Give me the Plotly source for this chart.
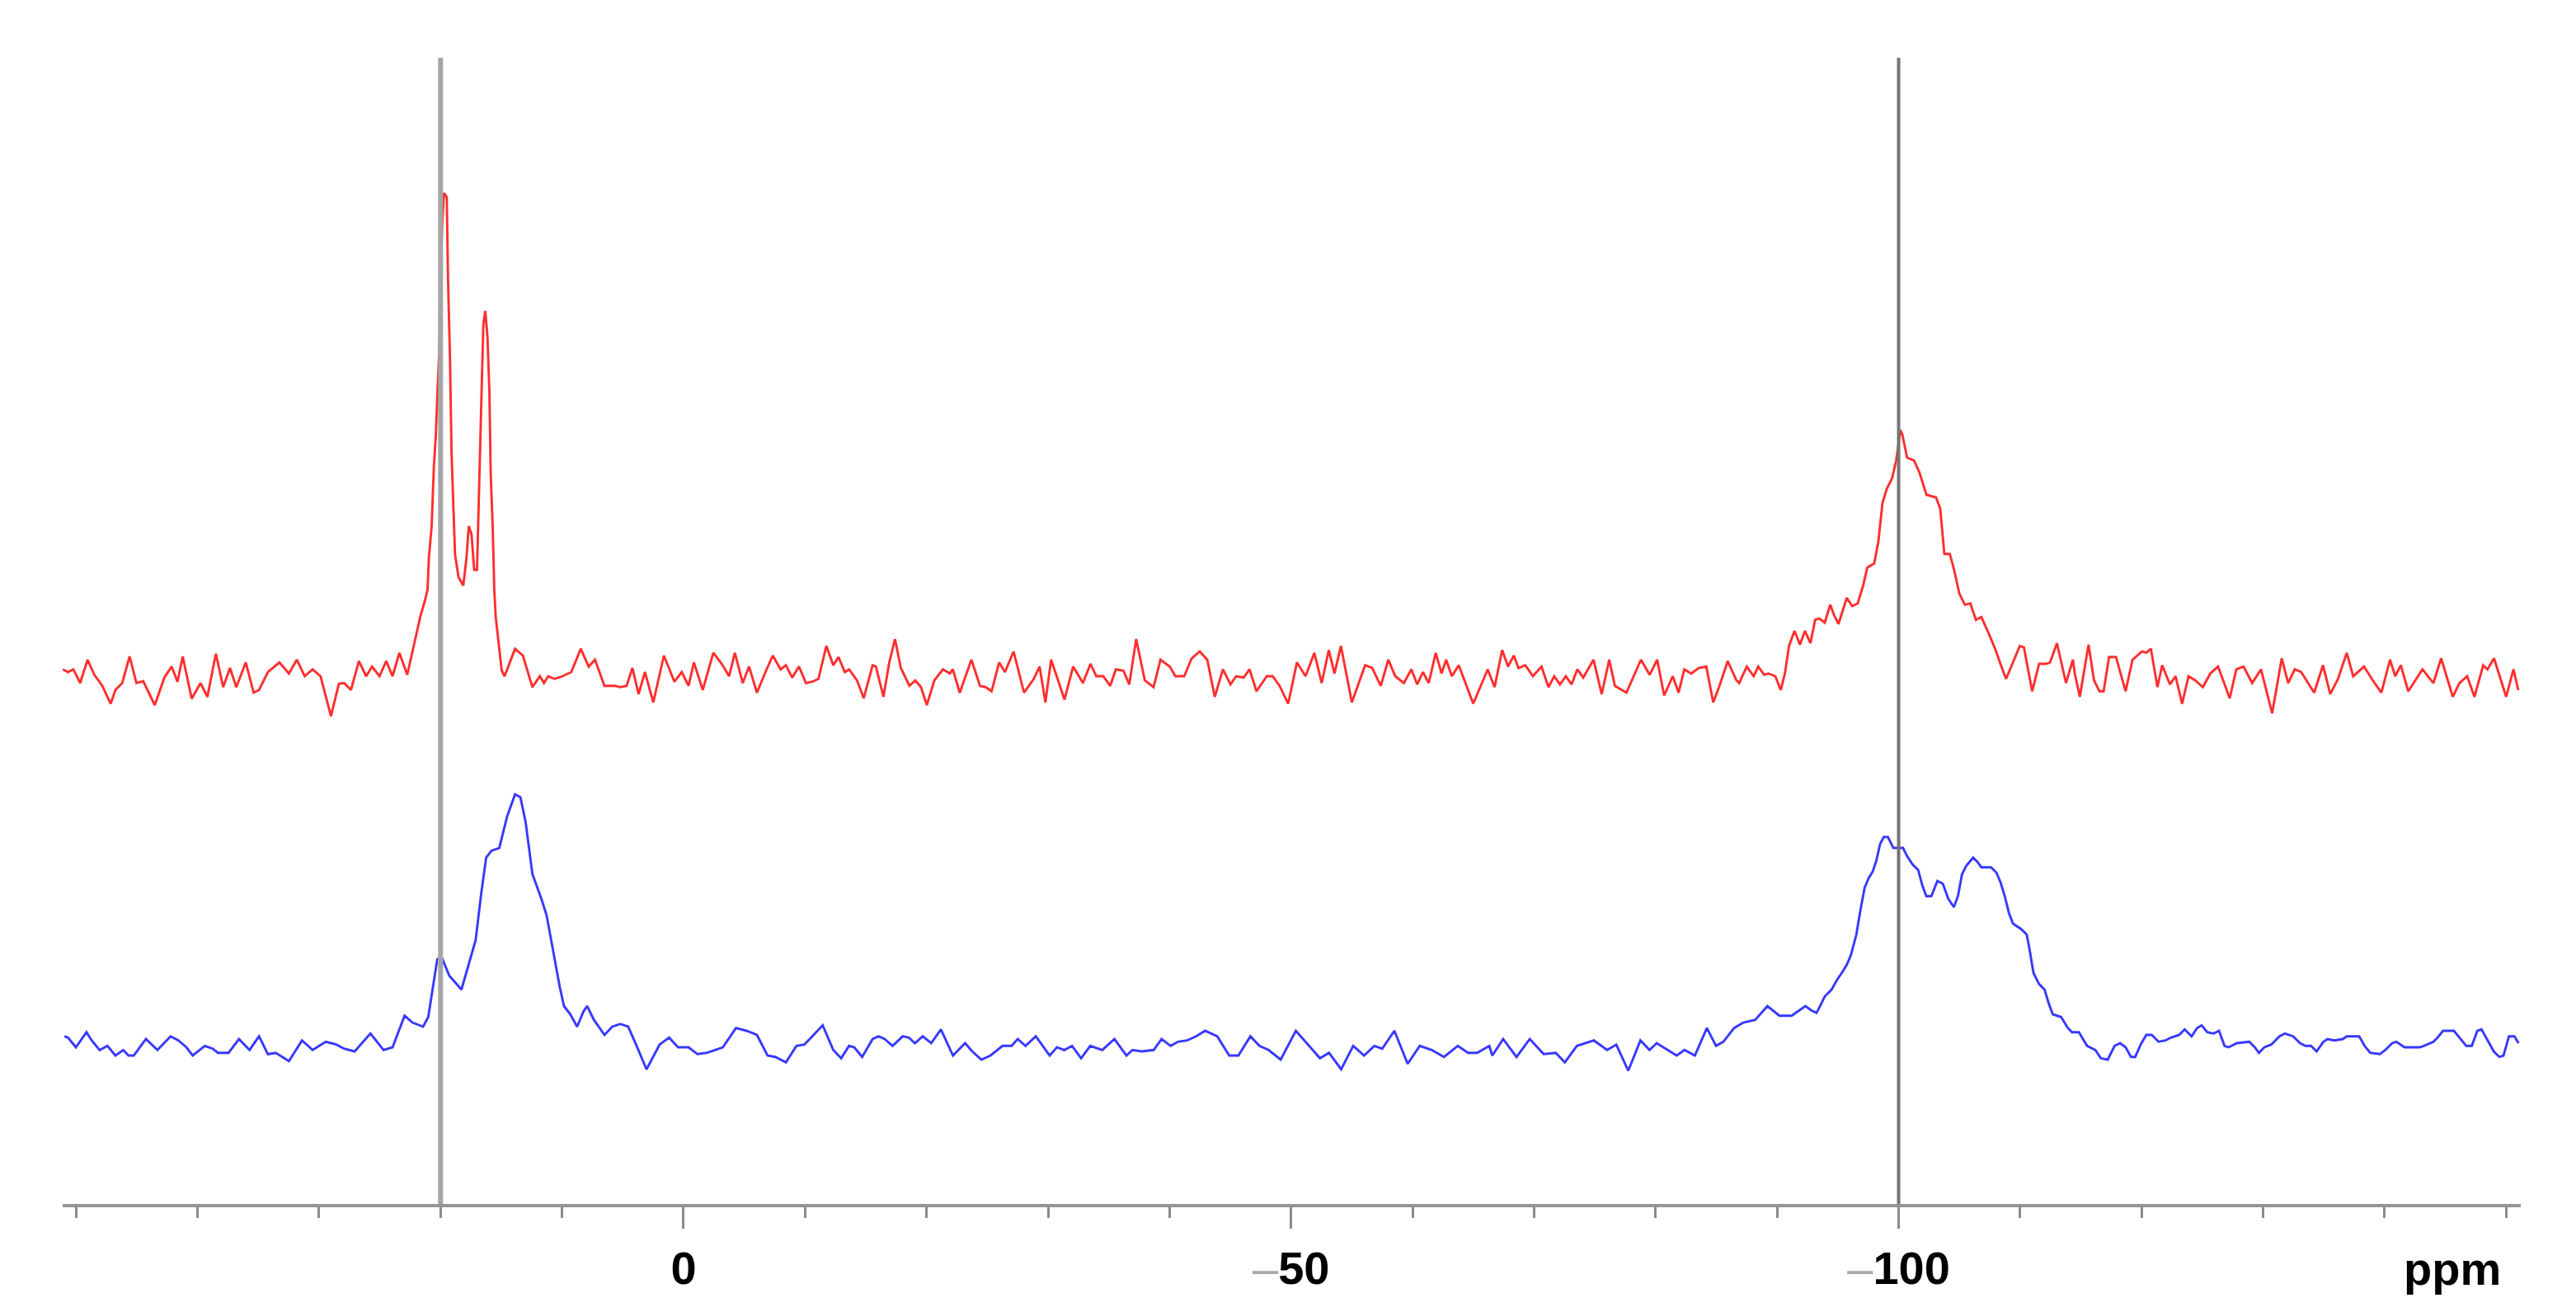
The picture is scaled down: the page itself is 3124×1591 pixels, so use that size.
import plotly.graph_objects as go

# ---------------------------------------------------------------------------
# Spectra: chemical shift (ppm) and intensity (a.u.)
# ---------------------------------------------------------------------------
red_ppm = [
    51.09, 50.66, 50.22, 49.66, 49.05, 48.49, 47.84, 47.15, 46.76, 46.20,
    45.59, 45.03, 44.47, 43.52, 42.73, 42.13, 41.65, 41.22, 40.48, 39.75,
    39.19, 38.49, 37.89, 37.33, 36.81, 36.03, 35.38, 34.94, 34.21, 33.26,
    32.48, 31.83, 31.18, 30.53, 29.88, 29.02, 28.37, 27.93, 27.37, 26.72,
    26.12, 25.64, 25.03, 24.47, 23.95, 23.39, 22.74, 22.20, 21.86, 21.64,
    21.30, 21.07, 20.96, 20.73, 20.55, 20.39, 20.24, 20.10, 20.01, 19.87,
    19.72, 19.49, 19.38, 19.22, 19.10, 18.97, 18.81, 18.52, 18.13, 17.86,
    17.68, 17.45, 17.23, 17.00, 16.89, 16.71, 16.59, 16.48, 16.32, 16.14,
    15.98, 15.87, 15.71, 15.58, 15.46, 15.26, 14.97, 14.73, 13.87, 13.22,
    12.44, 11.83, 11.49, 11.14, 10.62, 9.97, 9.24, 8.46, 7.81, 7.29,
    6.51, 5.64, 5.21, 4.69, 4.21, 3.70, 3.18, 2.49, 1.62, 0.75,
    0.15, -0.41, -0.85, -1.58, -2.45, -3.14, -3.75, -4.22, -4.87, -5.39,
    -6.04, -6.69, -7.34, -7.99, -8.42, -8.94, -9.50, -10.07, -10.59, -11.10,
    -11.75, -12.32, -12.75, -13.27, -13.62, -14.27, -14.83, -15.56, -15.83, -16.45,
    -16.93, -17.40, -17.88, -18.59, -19.07, -19.54, -20.02, -20.64, -21.35, -21.92,
    -22.16, -22.73, -23.69, -24.40, -24.88, -25.35, -25.97, -26.45, -27.16, -28.02,
    -28.82, -29.30, -29.78, -30.25, -31.35, -32.06, -32.87, -33.49, -33.97, -34.54,
    -35.11, -35.58, -36.20, -36.68, -37.25, -37.96, -38.68, -39.25, -40.01, -40.48,
    -41.20, -41.82, -42.48, -43.10, -43.72, -44.39, -45.01, -45.48, -46.10, -46.58,
    -47.15, -48.00, -48.48, -49.05, -49.76, -50.48, -51.19, -51.91, -52.52, -53.10,
    -53.57, -54.10, -55.00, -56.09, -56.67, -57.38, -58.00, -58.57, -59.28, -59.90,
    -60.38, -60.85, -61.33, -61.90, -62.38, -62.76, -63.23, -63.80, -64.99, -66.18,
    -66.75, -67.37, -67.85, -68.33, -68.71, -69.28, -69.90, -70.61, -71.18, -71.66,
    -72.13, -72.61, -73.08, -73.56, -74.04, -74.89, -75.56, -76.18, -76.65, -77.60,
    -78.79, -79.51, -80.13, -80.70, -81.41, -81.89, -82.36, -82.93, -83.55, -84.17,
    -84.74, -85.22, -85.93, -86.65, -86.88, -87.50, -88.07, -88.45, -88.93, -89.28,
    -89.85, -90.30, -90.64, -90.98, -91.43, -91.88, -92.29, -92.74, -93.13, -93.47,
    -93.92, -94.37, -94.71, -95.05, -95.73, -96.18, -96.63, -97.08, -97.42, -97.99,
    -98.33, -98.67, -99.01, -99.46, -99.80, -100.14, -100.30, -100.70, -101.27, -101.72,
    -102.29, -103.08, -103.42, -103.76, -104.21, -104.55, -105.00, -105.45, -105.90, -106.36,
    -106.81, -107.37, -107.94, -108.50, -108.84, -109.41, -109.97, -110.31, -110.99, -111.56,
    -112.12, -112.46, -113.03, -113.77, -114.34, -114.50, -114.91, -115.63, -116.08, -116.53,
    -116.87, -117.32, -117.89, -118.68, -119.25, -120.04, -120.37, -120.76, -121.30, -121.69,
    -122.33, -122.79, -123.33, -123.86, -124.40, -125.04, -125.65, -126.29, -127.25, -127.79,
    -128.39, -129.10, -129.82, -130.74, -131.53, -132.06, -132.60, -133.13, -134.20, -134.92,
    -135.52, -136.16, -136.88, -137.41, -138.30, -139.02, -139.73, -140.44, -140.87, -141.33,
    -141.94, -143.11, -144.01, -144.65, -145.61, -146.15, -146.79, -147.39, -148.11, -148.46,
    -149.00, -150.00, -150.60, -151.00,
]
red_int = [
    5.3, 2.0, 5.3, -11.3, 17.0, -1.3, -14.7, -36.3, -19.7, -11.3,
    21.0, -11.3, -9.0, -38.0, -4.7, 8.7, -9.7, 21.0, -30.3, -11.3,
    -28.0, 24.3, -16.3, 7.0, -16.3, 13.7, -23.0, -19.7, 2.0, 13.7,
    0.3, 17.0, -3.0, 5.3, -3.0, -51.3, -12.3, -11.3, -19.7, 15.3,
    -3.0, 8.7, -3.0, 15.3, -3.0, 25.3, -1.3, 33.0, 55.0, 71.0,
    88.0, 102.0, 141.0, 179.0, 251.0, 289.0, 346.0, 394.0, 476.0, 543.0,
    583.0, 578.0, 476.0, 380.0, 270.0, 208.0, 145.0, 117.0, 107.0, 141.0,
    179.0, 169.0, 126.0, 126.0, 188.0, 279.0, 346.0, 423.0, 440.0, 409.0,
    342.0, 241.0, 179.0, 102.0, 69.0, 40.0, 4.0, -3.0, 30.3, 22.0,
    -16.3, -3.0, -11.3, -3.0, -6.3, -3.0, 2.0, 30.3, 8.7, 17.0,
    -14.7, -14.7, -16.3, -14.7, 7.0, -24.7, 2.0, -34.7, 22.0, -9.7,
    2.0, -14.7, 13.7, -19.7, 25.3, 12.0, -3.0, 25.3, -11.3, 8.7,
    -23.0, 0.3, 22.0, 5.3, 10.3, -4.7, 8.7, -11.3, -9.7, -6.3,
    33.7, 10.3, 20.3, 2.0, 5.3, -8.0, -29.7, 10.3, 8.7, -28.0,
    13.7, 42.0, 7.0, -14.7, -8.0, -16.3, -38.0, -8.0, 5.3, 0.3,
    5.3, -23.0, 17.0, -14.7, -16.3, -21.3, 13.7, 2.0, 27.0, -23.0,
    -6.3, 8.7, -34.7, 17.0, -31.3, 8.7, -11.3, 12.0, -3.0, -3.0,
    -14.7, 5.3, 3.7, -13.0, 42.0, -8.0, -16.3, 17.0, 8.7, -3.0,
    -3.0, 18.7, 27.0, 17.0, -28.0, 5.3, -13.0, -3.0, -4.7, 5.3,
    -21.3, -3.0, -3.0, -14.7, -36.3, 13.7, -3.0, 25.3, -11.3, 28.7,
    0.3, 33.7, -34.7, 10.3, 7.0, -14.7, 17.0, -3.0, -11.3, 5.3,
    -13.0, 2.0, -11.3, 25.3, 0.3, 17.0, -3.0, 10.3, -36.3, 5.3,
    -16.3, 28.7, 8.7, 22.0, 7.0, 10.3, -3.0, 8.7, -16.3, -3.0,
    -13.0, -3.0, -13.0, 5.3, -4.7, 17.0, -24.7, 17.0, -14.7, -23.0,
    17.0, -1.3, 17.0, -26.3, -3.0, -23.0, 5.3, 0.3, 7.0, 8.7,
    -34.7, -16.3, 15.3, -8.0, -11.3, 8.7, -3.0, 8.7, -1.3, 0.3,
    -3.0, -19.7, 0.3, 33.7, 52.0, 35.3, 52.0, 37.0, 65.3, 67.0,
    62.0, 83.7, 70.3, 60.3, 92.0, 82.0, 85.3, 107.0, 128.7, 133.7,
    160.3, 207.0, 223.7, 237.0, 258.7, 295.3, 290.3, 262.0, 258.7, 243.7,
    217.0, 213.7, 200.3, 145.3, 145.3, 127.0, 97.0, 83.7, 85.3, 65.3,
    68.7, 50.3, 30.3, 7.0, -6.3, 13.7, 33.7, 32.0, -21.3, 12.0,
    12.0, 13.7, 37.0, -11.3, 17.0, 0.3, -28.0, 35.3, -8.0, -21.3,
    -21.3, 20.3, 20.3, -21.3, 17.0, 27.0, 25.3, 30.3, -16.3, 10.3,
    -13.0, -3.0, -36.3, -3.0, -8.0, -16.3, 0.3, 8.7, -29.7, 5.3,
    8.7, -11.3, 5.3, -48.0, 18.7, -11.3, 5.3, 2.0, -23.0, 10.3,
    -24.7, -6.3, 25.3, -3.0, 8.7, -8.0, -23.0, 17.0, -3.0, 10.3,
    -21.3, 5.3, -11.3, 18.7, -28.0, -11.3, -3.0, -28.0, 10.3, 5.3,
    18.7, -28.0, 5.3, -20.0,
]

blue_ppm = [
    50.96, 50.66, 50.01, 49.14, 48.71, 48.06, 47.41, 46.76, 46.11, 45.68,
    45.25, 44.25, 43.30, 42.22, 41.57, 40.92, 40.40, 39.40, 38.75, 38.32,
    37.45, 36.59, 35.72, 34.94, 34.21, 33.56, 32.48, 31.40, 30.53, 29.45,
    28.58, 27.93, 27.07, 25.77, 24.69, 23.95, 22.96, 22.31, 21.44, 21.01,
    20.66, 20.27, 19.93, 19.28, 18.28, 17.55, 17.11, 16.68, 16.25, 15.81,
    15.17, 14.52, 13.87, 13.43, 13.00, 12.44, 11.70, 11.27, 10.71, 10.19,
    9.84, 9.32, 8.76, 8.24, 7.94, 7.38, 6.51, 5.86, 5.21, 4.56,
    3.91, 3.05, 1.97, 1.19, 0.45, -0.41, -1.15, -1.93, -2.58, -3.23,
    -4.31, -5.18, -6.04, -6.91, -7.56, -8.42, -9.29, -9.94, -10.59, -11.45,
    -12.32, -12.97, -13.62, -14.05, -14.70, -15.56, -16.05, -16.55, -17.20, -18.04,
    -18.54, -19.04, -19.68, -20.38, -21.18, -22.17, -23.17, -23.76, -24.51, -25.26,
    -26.25, -27.00, -27.50, -28.14, -28.99, -30.13, -30.73, -31.33, -31.97, -32.72,
    -33.47, -34.46, -35.46, -36.45, -36.95, -37.70, -38.69, -39.34, -40.09, -40.68,
    -41.43, -42.18, -42.92, -43.92, -44.91, -45.66, -46.65, -47.40, -48.15, -49.14,
    -50.39, -51.38, -52.38, -53.12, -54.12, -55.11, -56.01, -56.85, -57.50, -58.50,
    -59.59, -60.59, -61.58, -62.58, -63.72, -64.57, -65.31, -66.31, -66.56, -67.45,
    -68.55, -69.64, -70.79, -71.78, -72.53, -73.52, -74.92, -76.01, -76.76, -77.75,
    -78.75, -79.50, -80.09, -80.99, -81.73, -82.38, -83.23, -84.22, -84.97, -85.57,
    -86.46, -87.21, -88.20, -89.20, -90.19, -91.19, -92.33, -92.79, -93.24, -93.65,
    -93.92, -94.48, -94.93, -95.39, -95.73, -96.07, -96.29, -96.52, -96.86, -97.20,
    -97.53, -97.87, -98.17, -98.48, -98.78, -99.12, -99.57, -100.02, -100.36, -100.70,
    -101.15, -101.61, -101.94, -102.28, -102.69, -103.19, -103.64, -104.09, -104.55, -104.88,
    -105.22, -105.56, -106.13, -106.47, -106.81, -107.60, -108.05, -108.39, -108.73, -109.07,
    -109.41, -110.09, -110.54, -110.76, -111.10, -111.56, -112.01, -112.35, -112.69, -113.37,
    -113.93, -114.27, -114.84, -115.17, -115.51, -116.19, -116.64, -117.21, -117.77, -118.23,
    -118.68, -119.13, -119.47, -119.92, -120.38, -120.83, -121.39, -121.96, -122.41, -123.09,
    -123.54, -124.11, -124.56, -124.94, -125.40, -125.92, -126.37, -126.82, -127.16, -127.84,
    -128.86, -129.31, -129.65, -130.10, -130.67, -131.34, -131.80, -132.47, -133.04, -133.49,
    -133.94, -134.40, -134.96, -135.30, -135.87, -136.55, -136.88, -137.90, -138.35, -138.81,
    -139.60, -140.05, -140.62, -140.96, -141.63, -142.31, -142.88, -143.22, -144.01, -144.35,
    -144.80, -145.70, -146.27, -146.72, -147.17, -147.63, -147.97, -148.53, -148.98, -149.44,
    -149.78, -150.23, -150.68, -151.02,
]
blue_int = [
    10.3, 8.7, -3.0, 15.3, 5.3, -6.3, -1.3, -13.0, -6.3, -13.0,
    -13.0, 7.0, -6.3, 10.3, 5.3, -3.0, -13.0, -1.3, -4.7, -9.7,
    -9.7, 7.0, -6.3, 10.3, -11.3, -9.7, -19.7, 5.3, -6.3, 3.7,
    0.3, -4.7, -8.0, 13.7, -6.3, -3.0, 35.3, 27.0, 22.0, 33.7,
    67.0, 103.7, 107.0, 83.7, 67.0, 103.7, 127.0, 180.3, 227.0, 235.3,
    238.7, 277.0, 303.7, 300.3, 270.3, 207.0, 177.0, 157.0, 110.3, 70.3,
    47.0, 37.0, 22.0, 40.3, 47.0, 30.3, 12.0, 22.0, 25.3, 22.0,
    0.3, -29.7, 0.3, 8.7, -3.0, -3.0, -11.3, -9.7, -6.3, -3.0,
    20.3, 17.0, 12.0, -13.0, -14.7, -21.3, -1.3, 0.3, 10.3, 23.7,
    -6.3, -16.3, -1.3, -3.0, -14.7, 7.0, 10.3, 7.0, -1.3, 10.3,
    8.7, 2.0, 10.3, 2.0, 18.7, -13.0, 2.0, -8.0, -18.0, -13.0,
    -1.3, -1.3, 7.0, -1.3, 10.3, -13.0, -3.0, -6.3, -1.3, -16.3,
    -1.3, -6.3, 7.0, -13.0, -6.3, -8.0, -6.3, 7.0, -1.3, 3.7,
    5.3, 10.3, 17.0, 10.3, -13.0, -13.0, 10.3, -1.3, -6.3, -18.0,
    17.0, 0.3, -16.3, -9.7, -29.7, -1.3, -13.0, -1.3, -4.7, 17.0,
    -23.0, -1.3, -6.3, -14.7, -1.3, -9.7, -9.7, -1.3, -13.0, 7.0,
    -14.7, 7.0, -11.3, -9.7, -21.3, -1.3, 5.3, -6.3, 0.3, -31.3,
    5.3, -6.3, 2.0, -6.3, -13.0, -6.3, -13.0, 20.3, -1.3, 3.7,
    20.3, 27.0, 30.3, 47.0, 35.3, 35.3, 47.0, 42.0, 38.7, 50.3,
    58.7, 67.0, 78.7, 88.7, 97.0, 108.7, 120.3, 133.7, 163.7, 190.3,
    202.0, 210.3, 223.7, 243.7, 252.0, 252.0, 238.7, 238.7, 238.7, 228.7,
    218.7, 212.0, 193.7, 180.3, 180.3, 198.7, 195.3, 177.0, 167.0, 180.3,
    207.0, 217.0, 227.0, 222.0, 215.3, 215.3, 208.7, 197.0, 180.3, 160.3,
    147.0, 140.3, 133.7, 117.0, 87.0, 73.7, 67.0, 50.3, 37.0, 33.7,
    20.3, 15.3, 15.3, 7.0, -1.3, -6.3, -16.3, -18.0, -1.3, 2.0,
    -3.0, -14.7, -14.7, 0.3, 12.0, 12.0, 3.7, 5.3, 8.7, 12.0,
    18.7, 10.3, 20.3, 23.7, 15.3, 13.7, 17.0, -1.3, -3.0, 2.0,
    3.7, -3.0, -9.7, -3.0, 0.3, 10.3, 13.7, 10.3, 2.0, -1.3,
    -1.3, -8.0, 3.7, 7.0, 5.3, 7.0, 10.3, 10.3, -1.3, -9.7,
    -11.3, -6.3, 2.0, 3.7, -3.0, -3.0, -3.0, -1.3, 3.7, 8.7,
    17.0, 17.0, 7.0, -1.3, -1.3, 17.0, 18.7, 3.7, -8.0, -14.7,
    -13.0, 10.3, 10.3, 2.0,
]

# reference lines and axis labels
marker_ppm = [20, -100]
tick_major = [50, 0, -50, -100, -150]
tick_text = ["", "0", "\u201350", "\u2013100", ""]

# vertical stacking of the two spectra (same units as intensity)
RED_OFFSET = 643
BLUE_OFFSET = 193
TOP = 1390

FONT = "Liberation Sans, Arial, sans-serif"


def label(t):
    if t.startswith("\u2013"):
        return '<span style="color:#a8a8a8">\u2013</span><b>' + t[1:] + "</b>"
    return "<b>" + t + "</b>" if t else ""


fig = go.Figure()

fig.add_trace(go.Scatter(
    x=blue_ppm, y=[v + BLUE_OFFSET for v in blue_int],
    mode="lines", line=dict(color="#3838ff", width=2.9),
    hoverinfo="skip", showlegend=False,
))
fig.add_trace(go.Scatter(
    x=red_ppm, y=[v + RED_OFFSET for v in red_int],
    mode="lines", line=dict(color="#ff2e2e", width=2.9),
    hoverinfo="skip", showlegend=False,
))

# reference lines
fig.add_shape(type="line", xref="x", yref="y", x0=marker_ppm[0], x1=marker_ppm[0],
              y0=-13, y1=TOP, line=dict(color="#a5a5a5", width=6), layer="above")
fig.add_shape(type="line", xref="x", yref="y", x0=marker_ppm[1], x1=marker_ppm[1],
              y0=-26, y1=TOP, line=dict(color="#747474", width=4), layer="above")

fig.add_annotation(x=-145.6, y=-78 / TOP, xref="x", yref="paper", text="<b>ppm</b>",
                   showarrow=False, font=dict(family=FONT, size=56, color="black"),
                   xanchor="center", yanchor="middle")

# page body keeps its default 8px margin, so the figure is sized to sit inside it
fig.update_layout(
    width=3108, height=1575,
    margin=dict(l=68, r=59, t=62, b=123),
    paper_bgcolor="white", plot_bgcolor="white",
    xaxis=dict(
        range=[51.1, -151.2],
        showgrid=False, zeroline=False,
        showline=True, linecolor="#959595", linewidth=4,
        tickmode="array", tickvals=tick_major,
        ticktext=[label(t) for t in tick_text],
        ticks="outside", ticklen=26, tickwidth=2.5, tickcolor="#8a8a8a",
        tickfont=dict(family=FONT, size=56, color="black"),
        minor=dict(tickmode="array", tickvals=list(range(50, -151, -10)),
                   ticks="outside", ticklen=13, tickwidth=2.5, tickcolor="#8a8a8a",
                   showgrid=False),
    ),
    yaxis=dict(range=[0, TOP], visible=False, showgrid=False, zeroline=False),
)

fig.write_html("out.html", config={"displayModeBar": False})
